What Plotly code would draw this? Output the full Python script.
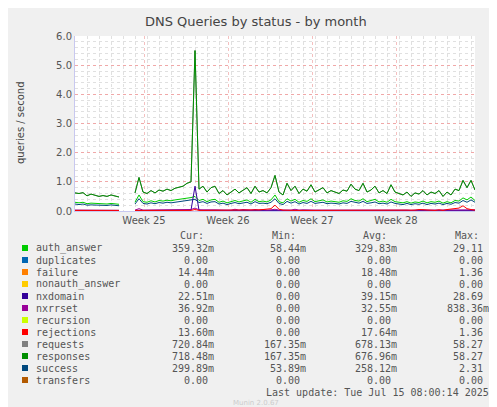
import plotly.graph_objects as go
import pandas as pd

# 8-hourly samples starting 2025-06-12 00:00
start = pd.Timestamp("2025-06-12 00:00")
N = None
responses = [0.62, 0.60, 0.63, 0.52, 0.58, 0.55, 0.50, 0.53, 0.50, 0.55, 0.52, 0.48,
             N, N, N,
             0.62, 1.15, 0.65, 0.60, 0.70, 0.62, 0.72, 0.68, 0.75, 0.70, 0.78, 0.82, 0.85, 0.95, 1.00,
             5.50, 0.75, 0.85, 0.65, 0.80, 0.85, 0.60, 0.70, 0.55, 0.65, 0.75, 0.62, 0.72, 0.80, 0.60,
             0.85, 0.65, 0.70, 0.62, 0.80, 1.22, 0.65, 0.55, 0.95, 0.70, 0.85, 0.60, 0.75, 0.68, 0.90,
             0.65, 0.72, 0.80, 0.62, 0.70, 0.65, 0.60, 0.72, 0.68, 0.92, 0.75, 0.70, 0.95, 0.65, 0.72,
             0.85, 0.62, 0.70, 0.60, 0.90, 0.65, 0.60, 0.55, 0.65, 0.50, 0.62, 0.58, 0.70, 0.55, 0.65,
             0.60, 0.70, 0.50, 0.65, 0.55, 0.75, 0.70, 1.05, 0.80, 1.05, 0.72]
auth_answer = [0.30, 0.28, 0.30, 0.25, 0.27, 0.26, 0.24, 0.25, 0.24, 0.26, 0.25, 0.23,
               N, N, N,
               0.30, 0.55, 0.32, 0.30, 0.35, 0.31, 0.36, 0.34, 0.37, 0.35, 0.38, 0.40, 0.41, 0.44, 0.46,
               0.50, 0.36, 0.40, 0.32, 0.38, 0.40, 0.30, 0.34, 0.28, 0.32, 0.36, 0.31, 0.35, 0.38, 0.30,
               0.40, 0.32, 0.34, 0.31, 0.38, 0.55, 0.32, 0.28, 0.42, 0.34, 0.40, 0.30, 0.36, 0.33, 0.42,
               0.32, 0.35, 0.38, 0.31, 0.34, 0.32, 0.30, 0.35, 0.33, 0.42, 0.36, 0.34, 0.42, 0.32, 0.35,
               0.40, 0.31, 0.34, 0.30, 0.40, 0.32, 0.30, 0.28, 0.32, 0.27, 0.31, 0.29, 0.34, 0.28, 0.32,
               0.30, 0.34, 0.27, 0.32, 0.28, 0.36, 0.34, 0.45, 0.38, 0.48, 0.36]
success = [0.24, 0.22, 0.24, 0.20, 0.21, 0.20, 0.19, 0.20, 0.19, 0.21, 0.20, 0.18,
           N, N, N,
           0.24, 0.42, 0.26, 0.24, 0.28, 0.25, 0.29, 0.27, 0.30, 0.28, 0.30, 0.32, 0.33, 0.35, 0.37,
           0.40, 0.29, 0.32, 0.26, 0.31, 0.32, 0.24, 0.27, 0.22, 0.26, 0.29, 0.25, 0.28, 0.30, 0.24,
           0.32, 0.26, 0.27, 0.25, 0.30, 0.42, 0.26, 0.22, 0.33, 0.27, 0.32, 0.24, 0.29, 0.26, 0.33,
           0.26, 0.28, 0.30, 0.25, 0.27, 0.26, 0.24, 0.28, 0.26, 0.33, 0.29, 0.27, 0.33, 0.26, 0.28,
           0.31, 0.25, 0.27, 0.24, 0.31, 0.26, 0.24, 0.22, 0.26, 0.22, 0.25, 0.23, 0.27, 0.22, 0.26,
           0.24, 0.27, 0.22, 0.26, 0.23, 0.29, 0.27, 0.36, 0.30, 0.38, 0.30]
rejections = [0.02, 0.03, 0.02, 0.02, 0.03, 0.02, 0.02, 0.02, 0.03, 0.02, 0.02, 0.02,
              N, N, N,
              0.02, 0.03, 0.02, 0.02, 0.02, 0.03, 0.02, 0.02, 0.02, 0.02, 0.03, 0.02, 0.02, 0.02, 0.02,
              0.05, 0.02, 0.02, 0.02, 0.02, 0.03, 0.02, 0.02, 0.02, 0.02, 0.02, 0.03, 0.02, 0.02, 0.02,
              0.02, 0.04, 0.05, 0.06, 0.08, 0.20, 0.06, 0.03, 0.02, 0.02, 0.02, 0.02, 0.03, 0.02, 0.02,
              0.02, 0.02, 0.02, 0.03, 0.02, 0.02, 0.02, 0.02, 0.02, 0.02, 0.03, 0.02, 0.02, 0.02, 0.02,
              0.02, 0.02, 0.03, 0.02, 0.02, 0.02, 0.02, 0.02, 0.02, 0.02, 0.03, 0.05, 0.04, 0.02, 0.03,
              0.02, 0.04, 0.02, 0.05, 0.06, 0.08, 0.10, 0.18, 0.08, 0.05, 0.03]
nxrrset = [0.03, 0.03, 0.04, 0.03, 0.03, 0.03, 0.02, 0.03, 0.03, 0.03, 0.03, 0.02,
           N, N, N,
           0.03, 0.08, 0.03, 0.03, 0.04, 0.03, 0.04, 0.03, 0.04, 0.03, 0.04, 0.04, 0.04, 0.05, 0.05,
           0.10, 0.04, 0.04, 0.03, 0.04, 0.04, 0.03, 0.03, 0.03, 0.03, 0.06, 0.03, 0.05, 0.04, 0.03,
           0.05, 0.03, 0.05, 0.03, 0.04, 0.06, 0.03, 0.03, 0.04, 0.03, 0.06, 0.03, 0.04, 0.03, 0.04,
           0.03, 0.03, 0.04, 0.03, 0.03, 0.03, 0.03, 0.04, 0.03, 0.05, 0.05, 0.03, 0.04, 0.03, 0.03,
           0.04, 0.03, 0.03, 0.03, 0.04, 0.05, 0.03, 0.03, 0.03, 0.02, 0.03, 0.03, 0.04, 0.03, 0.03,
           0.03, 0.03, 0.02, 0.03, 0.03, 0.04, 0.03, 0.04, 0.04, 0.04, 0.04]
nxdomain = [0.02, 0.02, 0.02, 0.02, 0.02, 0.02, 0.02, 0.02, 0.02, 0.02, 0.02, 0.02,
            N, N, N,
            0.02, 0.03, 0.02, 0.02, 0.02, 0.02, 0.02, 0.02, 0.02, 0.02, 0.02, 0.02, 0.02, 0.02, 0.03,
            0.85, 0.03, 0.02, 0.02, 0.02, 0.02, 0.02, 0.02, 0.02, 0.02, 0.02, 0.02, 0.02, 0.02, 0.02,
            0.02, 0.02, 0.02, 0.02, 0.02, 0.03, 0.02, 0.02, 0.02, 0.02, 0.02, 0.02, 0.02, 0.02, 0.02,
            0.02, 0.02, 0.02, 0.02, 0.02, 0.02, 0.02, 0.02, 0.02, 0.02, 0.02, 0.02, 0.02, 0.02, 0.02,
            0.02, 0.02, 0.02, 0.02, 0.02, 0.02, 0.02, 0.02, 0.02, 0.02, 0.02, 0.02, 0.02, 0.02, 0.02,
            0.02, 0.02, 0.02, 0.02, 0.02, 0.02, 0.02, 0.02, 0.02, 0.02, 0.02]

x = [start + pd.Timedelta(hours=8 * i) for i in range(len(responses))]

week_ticks = [pd.Timestamp("2025-06-17 18:00") + pd.Timedelta(days=7 * k) for k in range(4)]
week_labels = ["Week 25", "Week 26", "Week 27", "Week 28"]

names = ["auth_answer", "duplicates", "failure", "nonauth_answer", "nxdomain", "nxrrset",
         "recursion", "rejections", "requests", "responses", "success", "transfers"]
colors = ["#00CC00", "#0066B3", "#FF8000", "#FFCC00", "#330099", "#990099",
          "#CCFF00", "#FF0000", "#808080", "#008F00", "#00487D", "#B35A00"]
cur = ["359.32m", "0.00 ", "14.44m", "0.00 ", "22.51m", "36.92m", "0.00 ", "13.60m",
       "720.84m", "718.48m", "299.89m", "0.00 "]
mins = ["58.44m", "0.00 ", "0.00 ", "0.00 ", "0.00 ", "0.00 ", "0.00 ", "0.00 ",
        "167.35m", "167.35m", "53.89m", "0.00 "]
avgs = ["329.83m", "0.00 ", "18.48m", "0.00 ", "39.15m", "32.55m", "0.00 ", "17.64m",
        "678.13m", "676.96m", "258.12m", "0.00 "]
maxs = ["29.11 ", "0.00 ", "1.36 ", "0.00 ", "28.69 ", "838.36m", "0.00 ", "1.36 ",
        "58.27 ", "58.27 ", "2.31 ", "0.00 "]

series = {"auth_answer": auth_answer, "nxdomain": nxdomain, "nxrrset": nxrrset,
          "rejections": rejections, "requests": responses, "responses": responses,
          "success": success}

W, H = 497, 407
L, R, T, B = 67, 467, 28, 203

def px(xp):
    return (xp - L) / (R - L)

def py(yp):
    return (B - yp) / (B - T)

def note(text, xp, yp, xa="center", size=10, color="#555", family="DejaVu Sans Mono", angle=0):
    return dict(text=text, x=px(xp), y=py(yp), xref="paper", yref="paper", xanchor=xa,
                yanchor="middle", showarrow=False, textangle=angle,
                font=dict(family=family, size=size, color=color))

fig = go.Figure()
for n, c in zip(names, colors):
    if n in series:
        fig.add_trace(go.Scatter(x=x, y=series[n], mode="lines", line=dict(color=c, width=1),
                                 connectgaps=False, showlegend=False, hoverinfo="skip"))

ann = [note("DNS Queries by status - by month", 248, 14, size=13, color="#444", family="DejaVu Sans"),
       note("queries / second", 12, 115, color="#444", family="DejaVu Sans", angle=-90),
       note("RRDTOOL / TOBI OETIKER", 488, 58, size=7, color="#bbb", family="DejaVu Sans", angle=90)]
for label, xx in [("Cur:", 184), ("Min:", 276), ("Avg:", 367), ("Max:", 459)]:
    ann.append(note(label, xx, 227))
shapes = []
for i, n in enumerate(names):
    yy = 240 + 12 * i
    shapes.append(dict(type="rect", xref="paper", yref="paper", x0=px(14), x1=px(20),
                       y0=py(yy - 3), y1=py(yy + 3), fillcolor=colors[i], line=dict(width=0)))
    ann.append(note(n, 26, yy, xa="left"))
    for col, xx in [(cur, 208), (mins, 300), (avgs, 391), (maxs, 483)]:
        ann.append(note(col[i].replace(" ", "&nbsp;"), xx, yy, xa="right"))
ann.append(note("Last update: Tue Jul 15 08:00:14 2025", 483, 384, xa="right"))
ann.append(note("Munin 2.0.67", 248, 395, size=7, color="#ccc", family="DejaVu Sans"))

fig.update_layout(width=W, height=H, margin=dict(l=L, r=W - R, t=T, b=H - B, autoexpand=False),
                  paper_bgcolor="#F0F0F0", plot_bgcolor="#FFFFFF",
                  annotations=ann, shapes=shapes, showlegend=False)
fig.update_xaxes(range=[start, pd.Timestamp("2025-07-15 08:00")], tickvals=week_ticks, ticktext=week_labels,
                 showgrid=True, gridcolor="#F4C0C0", griddash="dot", gridwidth=1,
                 minor=dict(dtick=86400000 * 1, showgrid=True, gridcolor="#E0E0E0", griddash="dot"),
                 ticks="", showline=True, linecolor="#C8C8F0",
                 tickfont=dict(family="DejaVu Sans", size=10, color="#555"))
fig.update_yaxes(range=[0, 6], dtick=1, tickformat=".1f", showgrid=True, gridcolor="#F0A8A8",
                 griddash="dot", zeroline=False,
                 minor=dict(dtick=0.2, showgrid=True, gridcolor="#E0E0E0", griddash="dot"),
                 ticks="", showline=True, linecolor="#C8C8F0",
                 tickfont=dict(family="DejaVu Sans", size=10, color="#555"))
fig.write_html("out.html")
